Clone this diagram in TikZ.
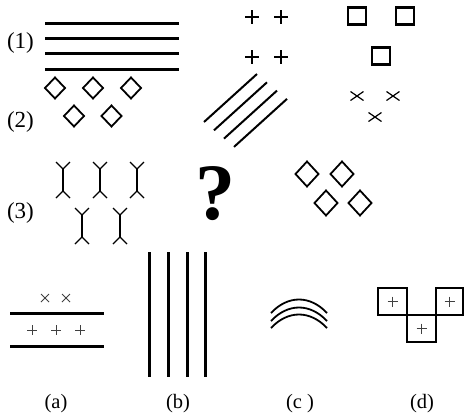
\documentclass[tikz,border=0pt]{standalone}
\usepackage{fontspec}
\setmainfont{Liberation Serif}
\begin{document}
\begin{tikzpicture}[x=1pt, y=-1pt, lbl/.style = {font=\fontsize{20.5}{22}\selectfont, inner sep=0pt}, row/.style = {font=\fontsize{23}{25}\selectfont, inner sep=0pt}, bar/.style = {line width=3pt}, dia/.style = {line width=1.8pt, line join=miter}, fine/.style = {line width=0.9pt, black!75}, box/.style = {line width=2.3pt}]
        \useasboundingbox (0,0) rectangle (464,413);
        \node[row] (1) at (20.5,43) {(1)};
        \node[row] (2) at (20.5,122) {(2)};
        \node[row] (3) at (20.5,213) {(3)};
        \node[lbl] (a) at (56,403.5) {(a)};
        \node[lbl] (b) at (178,403.5) {(b)};
        \node[lbl] (c) at (300,403.5) {(c )};
        \node[lbl] (d) at (422,403.5) {(d)};
        \node[font=\fontsize{80}{82}\selectfont\bfseries, inner sep=0pt] (q) at (215,194) {?};
        \foreach \y in {23,38,53,69} \draw[bar] (45,\y) -- (179,\y);
        \foreach \x/\y in {55/88, 93/88, 131/88, 74/116, 111.5/116} \draw[dia] (\x,\y-10.5) -- (\x+10,\y) -- (\x,\y+10.5) -- (\x-10,\y) -- cycle;
        \foreach \x/\y in {63/162, 100/162, 137/162, 82/208, 120/208} {
            \draw[line width=2.8pt] (\x,\y+7) -- (\x,\y+29);
            \draw[line width=1.3pt] (\x-7,\y) -- (\x,\y+7) -- (\x+7,\y) (\x-7,\y+36) -- (\x,\y+29) -- (\x+7,\y+36);
        }
        \foreach \x/\y in {252/17, 281/17, 252/57, 281/57} \draw[line width=1.3pt] (\x-7,\y) -- (\x+7,\y) (\x,\y-7) -- (\x,\y+7);
        \foreach \i in {0,...,3} \draw[line width=2pt] (204+10*\i,122+8.3*\i) -- (257+10*\i,74+8.3*\i);
        \foreach \x/\y in {357/16, 405/16, 381/56} \draw[box] (\x-9,\y-8.5) rectangle (\x+9,\y+8.5);
        \foreach \x/\y in {357/96, 393/96, 375/117} \draw[line width=1.2pt] (\x-6.5,\y-4.5) -- (\x+6.5,\y+4.5) (\x-6.5,\y+4.5) -- (\x+6.5,\y-4.5);
        \foreach \x/\y in {307/174, 342/174, 326/203, 360/203} \draw[dia] (\x,\y-12.5) -- (\x+11.5,\y) -- (\x,\y+12.5) -- (\x-11.5,\y) -- cycle;
        \draw[bar] (10,313) -- (104,313);
        \draw[bar] (10,346) -- (104,346);
        \foreach \x in {45,66} \draw[fine] (\x-4,294) -- (\x+4,302) (\x-4,302) -- (\x+4,294);
        \foreach \x in {32,56,80} \draw[fine] (\x-5,330) -- (\x+5,330) (\x,325) -- (\x,335);
        \foreach \x in {149,168,187,205} \draw[bar] (\x,252) -- (\x,377);
        \foreach \y in {0,8,15} \draw[line width=1.8pt] (271,313+\y) .. controls (288,295+\y) and (310,295+\y) .. (327,313+\y);
        \draw[box, line width=2pt] (378,288) rectangle (407,315);
        \draw[box, line width=2pt] (407,315) rectangle (436,342);
        \draw[box, line width=2pt] (436,288) rectangle (463,315);
        \foreach \x/\y in {392.5/301.5, 421.5/328.5, 449.5/301.5} \draw[fine] (\x-5,\y) -- (\x+5,\y) (\x,\y-5) -- (\x,\y+5);
\end{tikzpicture}
\end{document}
